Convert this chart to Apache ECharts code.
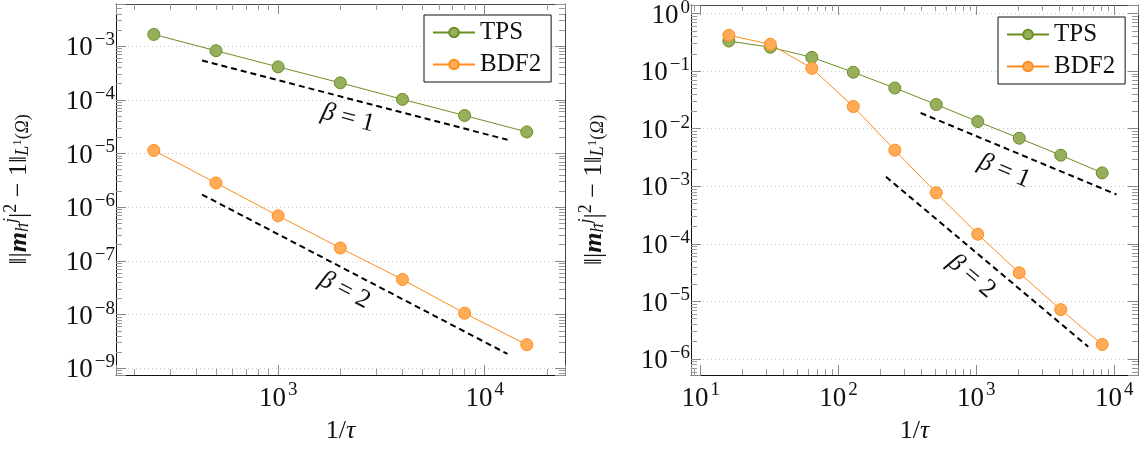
<!DOCTYPE html>
<html>
<head>
<meta charset="utf-8">
<script src="https://cdn.jsdelivr.net/npm/echarts@6/dist/echarts.min.js"></script>
<style>
  html, body { margin: 0; padding: 0; background: #fff; }
  #chart { width: 1145px; height: 450px; }
</style>
</head>
<body>
<div id="chart"></div>
<script>
// left panel: 1/tau = 250 ... 16000
const leftTau = [250, 500, 1000, 2000, 4000, 8000, 16000];
const leftTPS = [1.65e-3, 8.2e-4, 4.1e-4, 2.07e-4, 1.02e-4, 5.1e-5, 2.52e-5];
const leftBDF2 = [1.14e-5, 2.83e-6, 6.9e-7, 1.74e-7, 4.5e-8, 1.06e-8, 2.75e-9];
// reference slopes (left)
const leftRefX = [428, 12900];
const leftRef1 = [5.4e-4, 1.8e-5];
const leftRef2 = [1.72e-6, 1.85e-9];

// right panel: 1/tau = 16 ... 8192
const rightTau = [16, 32, 64, 128, 256, 512, 1024, 2048, 4096, 8192];
const rightTPS = [0.334, 0.26, 0.174, 0.0957, 0.051, 0.0263, 0.0133, 0.00684, 0.00347, 0.00171];
const rightBDF2 = [0.42, 0.293, 0.112, 0.0243, 0.00424, 7.7e-4, 1.47e-4, 3.14e-5, 7.2e-6, 1.79e-6];
// reference slopes (right)
const rightRef1X = [394, 10400];
const rightRef1 = [0.0188, 7.2e-4];
const rightRef2X = [221, 6490];
const rightRef2 = [1.46e-3, 1.63e-6];

const FONT = '"Liberation Serif", "DejaVu Serif", serif';
const INK = '#111';
const green = '#6b8e23', greenFill = '#97ae5c';
const orange = '#ff8c1a', orangeFill = '#ffab57';

const pairs = (xs, ys) => xs.map((x, i) => [x, ys[i]]);

const powRich = {
  b: { fontSize: 27, fontFamily: FONT, color: INK, verticalAlign: 'bottom' },
  s: { fontSize: 19, fontFamily: FONT, color: INK, verticalAlign: 'bottom', padding: [0, 0, 12, 2] }
};
const fmtPow = (v) => {
  const l = Math.log10(v);
  const e = Math.round(l);
  if (Math.abs(l - e) > 1e-6) return '';
  return '{b|10}{s|' + String(e).replace('-', '\u2212') + '}';
};

const nameRich = {
  t: { fontSize: 26, fontFamily: FONT, color: INK, verticalAlign: 'bottom' },
  m: { fontSize: 26, fontFamily: FONT, color: INK, fontWeight: 'bold', fontStyle: 'italic', verticalAlign: 'bottom' },
  i: { fontSize: 26, fontFamily: FONT, color: INK, fontStyle: 'italic', verticalAlign: 'bottom' },
  sp: { fontSize: 18, fontFamily: FONT, color: INK, fontStyle: 'italic', verticalAlign: 'bottom', padding: [0, 0, 12, 0] },
  sn: { fontSize: 18, fontFamily: FONT, color: INK, verticalAlign: 'bottom', padding: [0, 0, 12, 0] },
  sb: { fontSize: 18, fontFamily: FONT, color: INK, fontStyle: 'italic', verticalAlign: 'bottom' },
  sbn: { fontSize: 18, fontFamily: FONT, color: INK, verticalAlign: 'bottom' },
  ss: { fontSize: 13, fontFamily: FONT, color: INK, verticalAlign: 'bottom', padding: [0, 0, 8, 0] }
};
const yName = '{t|\u2016|}{m|m}{sb|h}{sp|j}{t||}{sn|2}{t| \u2212 1\u2016}{sb|L}{ss|1}{sbn|(}{sb|\u03A9}{sbn|)}';
const xName = '{t|1/}{i|\u03C4}';

function xAxis(grid, min, max, main) {
  return {
    type: 'log', gridIndex: grid, min: min, max: max,
    position: main ? 'bottom' : 'top',
    axisLine: { show: true, onZero: false, lineStyle: { color: main ? '#111' : '#444', width: 1 } },
    axisTick: { show: true, inside: true, length: 10, lineStyle: { color: '#888' } },
    minorTick: { show: true, splitNumber: 9, length: 6, lineStyle: { color: '#999' } },
    axisLabel: { show: main, formatter: fmtPow, margin: 6, rich: powRich },
    splitLine: { show: false },
    name: main ? xName : '', nameLocation: 'middle', nameGap: 43,
    nameTextStyle: { rich: nameRich }
  };
}
function yAxis(grid, min, max, main) {
  return {
    type: 'log', gridIndex: grid, min: min, max: max,
    position: main ? 'left' : 'right',
    axisLine: { show: true, onZero: false, lineStyle: { color: main ? '#111' : '#444', width: 1 } },
    axisTick: { show: true, inside: true, length: 10, lineStyle: { color: '#888' } },
    minorTick: { show: true, splitNumber: 9, length: 6, lineStyle: { color: '#999' } },
    axisLabel: { show: main, formatter: fmtPow, margin: 1, rich: powRich },
    splitLine: { show: main, lineStyle: { color: '#c8c8c8', type: [1, 3], width: 1 } },
    name: main ? yName : '', nameLocation: 'middle', nameGap: 84, nameRotate: 90,
    nameTextStyle: { rich: nameRich }
  };
}

function dataSeries(name, xs, ys, xi, yi, line, fill) {
  return {
    name: name, type: 'line', xAxisIndex: xi, yAxisIndex: yi,
    data: pairs(xs, ys), symbol: 'circle', symbolSize: 12, showSymbol: true,
    lineStyle: { color: line, width: 1 },
    itemStyle: { color: fill, borderColor: line, borderWidth: 1 },
    z: 3
  };
}
function refSeries(xs, ys, xi, yi) {
  return {
    type: 'line', xAxisIndex: xi, yAxisIndex: yi, data: pairs(xs, ys),
    symbol: 'none', silent: true,
    lineStyle: { color: '#000', width: 2, type: [6, 4] }, z: 2
  };
}
function noteSeries(text, pos, angle, xi, yi) {
  return {
    type: 'scatter', xAxisIndex: xi, yAxisIndex: yi, data: [pos],
    symbolSize: 0, silent: true,
    label: {
      show: true, position: 'inside', rotate: angle, formatter: text,
      color: INK, textBorderWidth: 0, opacity: 1,
      align: 'center', verticalAlign: 'middle', rich: nameRich
    }
  };
}

const legendBase = {
  data: ['TPS', 'BDF2'], orient: 'vertical',
  itemWidth: 42, itemHeight: 12, itemGap: 7,
  padding: [5, 10, 5, 8],
  borderColor: '#111', borderWidth: 1, backgroundColor: '#fff',
  textStyle: { fontSize: 25, fontFamily: FONT, color: INK },
  selectedMode: false
};

const option = {
  animation: false,
  backgroundColor: '#fff',
  grid: [
    { left: 116, top: 4, right: 580, bottom: 75, containLabel: false, outerBoundsMode: 'none' },
    { left: 691, top: 5, right: 7, bottom: 75, containLabel: false, outerBoundsMode: 'none' }
  ],
  xAxis: [
    xAxis(0, 164, 24500, true), xAxis(0, 164, 24500, false),
    xAxis(1, 8.5, 14900, true), xAxis(1, 8.5, 14900, false)
  ],
  yAxis: [
    yAxis(0, 7.5e-10, 6.08e-3, true), yAxis(0, 7.5e-10, 6.08e-3, false),
    yAxis(1, 5.27e-7, 1.41, true), yAxis(1, 5.27e-7, 1.41, false)
  ],
  legend: [
    Object.assign({ left: 424, top: 15 }, legendBase),
    Object.assign({ left: 998, top: 17 }, legendBase)
  ],
  series: [
    refSeries(leftRefX, leftRef1, 0, 0),
    refSeries(leftRefX, leftRef2, 0, 0),
    refSeries(rightRef1X, rightRef1, 2, 2),
    refSeries(rightRef2X, rightRef2, 2, 2),
    dataSeries('TPS', leftTau, leftTPS, 0, 0, green, greenFill),
    dataSeries('BDF2', leftTau, leftBDF2, 0, 0, orange, orangeFill),
    dataSeries('TPS', rightTau, rightTPS, 2, 2, green, greenFill),
    dataSeries('BDF2', rightTau, rightBDF2, 2, 2, orange, orangeFill),
    noteSeries('{i|\u03B2}{t| = 1}', [2180, 4.54e-5], -14.5, 0, 0),
    noteSeries('{i|\u03B2}{t| = 2}', [2100, 2.84e-8], -27.5, 0, 0),
    noteSeries('{i|\u03B2}{t| = 1}', [1600, 1.85e-3], -22.6, 2, 2),
    noteSeries('{i|\u03B2}{t| = 2}', [923, 2.75e-5], -40, 2, 2)
  ]
};

const myChart = echarts.init(document.getElementById('chart'));
myChart.setOption(option);
</script>
</body>
</html>
